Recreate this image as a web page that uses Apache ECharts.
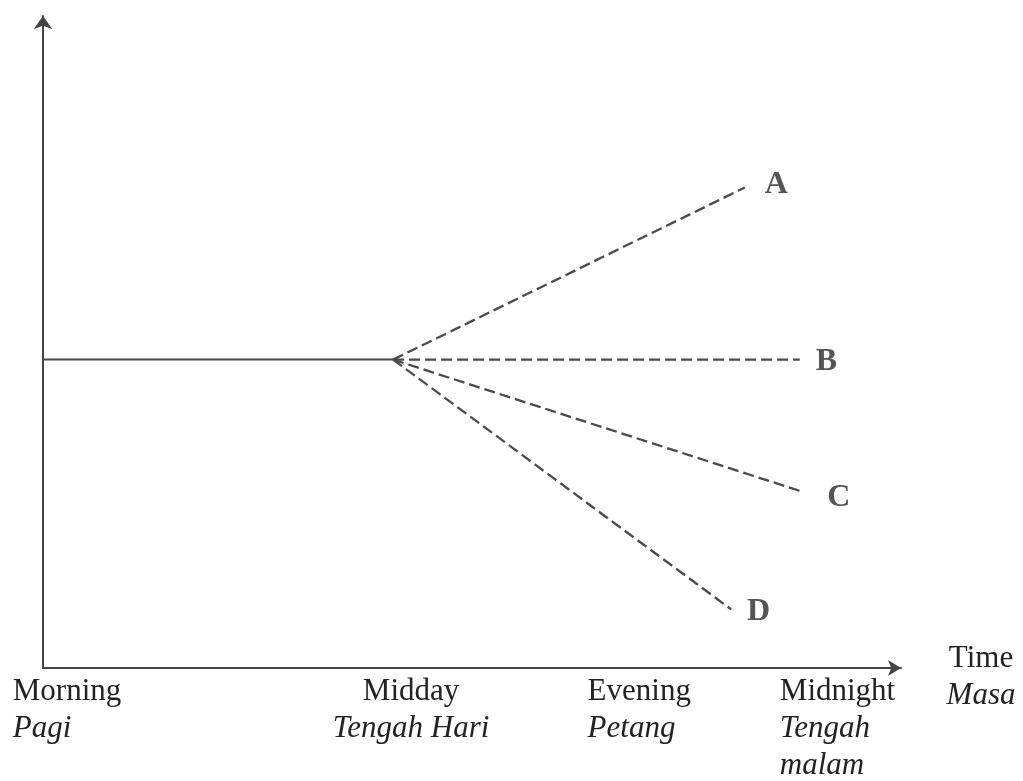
<!DOCTYPE html>
<html>
<head>
<meta charset="utf-8">
<script src="https://cdn.jsdelivr.net/npm/echarts@6/dist/echarts.min.js"></script>
<style>html,body{margin:0;padding:0;background:#fff}#c{width:1023px;height:781px}</style>
</head>
<body>
<div id="c"></div>
<script>
// Abstract scale 0..100 on both axes (the original chart has no numeric ticks)
const tickPositions = [5.8, 42.9, 72.8, 95.2];
const tickEnglish = ['Morning', 'Midday', 'Evening', 'Midnight'];
const tickMalay = ['Pagi', 'Tengah Hari', 'Petang', 'Tengah\nmalam'];
const tickCentered = [false, true, false, false];
const axisNameEn = 'Time';
const axisNameMs = 'Masa';

const baseX = [0, 40.8];
const baseY = [47.3, 47.3];
const branchNames = ['A', 'B', 'C', 'D'];
const branchEndX = [81.8, 88.2, 88.6, 80.2];
const branchEndY = [73.7, 47.3, 27.0, 9.0];
const labelOffsets = [[20, -3], [16, 2], [24, 6], [16, 2]];

const FONT = 'Liberation Serif';
const chart = echarts.init(document.getElementById('c'), null, {renderer: 'canvas'});

const series = [{
  type: 'line', name: 'base', symbol: 'none', silent: true,
  lineStyle: {color: '#4a4a4a', width: 2, type: 'solid'},
  data: baseX.map((x, i) => [x, baseY[i]])
}];
branchNames.forEach((n, i) => {
  series.push({
    type: 'line', name: n, symbol: 'none', silent: true,
    lineStyle: {color: '#4a4a4a', width: 2.3, type: [11, 5]},
    endLabel: {show: true, distance: 0, offset: labelOffsets[i], formatter: n,
               fontFamily: FONT, fontWeight: 'bold', fontSize: 32, color: '#555'},
    data: [[baseX[1], baseY[1]], [branchEndX[i], branchEndY[i]]]
  });
});

const rich = {
  l: {fontFamily: FONT, fontSize: 31, color: '#222', width: 160, align: 'left', lineHeight: 37},
  li: {fontFamily: FONT, fontSize: 31, fontStyle: 'italic', color: '#222', width: 160, align: 'left', lineHeight: 37},
  c: {fontFamily: FONT, fontSize: 31, color: '#222', width: 160, align: 'center', lineHeight: 37},
  ci: {fontFamily: FONT, fontSize: 31, fontStyle: 'italic', color: '#222', width: 160, align: 'center', lineHeight: 37},
  n: {fontFamily: FONT, fontSize: 31, color: '#222', width: 70, align: 'center', lineHeight: 37},
  ni: {fontFamily: FONT, fontSize: 31, fontStyle: 'italic', color: '#222', width: 70, align: 'center', lineHeight: 37}
};

chart.setOption({
  animation: false,
  backgroundColor: '#fff',
  grid: {left: 43, right: 122, top: 16, bottom: 112, containLabel: false},
  xAxis: {
    type: 'value', min: 0, max: 100,
    splitLine: {show: false},
    axisTick: {show: false},
    axisLine: {show: true, symbol: ['none', 'arrow'], symbolSize: [12, 13],
               lineStyle: {color: '#444', width: 2}},
    axisLabel: {
      customValues: tickPositions,
      margin: 5,
      formatter: function (v) {
        const i = tickPositions.indexOf(v);
        if (i < 0) return '';
        const s1 = tickCentered[i] ? 'c' : 'l';
        const s2 = tickCentered[i] ? 'ci' : 'li';
        return '{' + s1 + '|' + tickEnglish[i] + '}\n' +
          tickMalay[i].split('\n').map(t => '{' + s2 + '|' + t + '}').join('\n');
      },
      rich: rich
    },
    name: '{n|' + axisNameEn + '}\n{ni|' + axisNameMs + '}',
    nameLocation: 'end',
    nameGap: 45,
    nameTextStyle: {rich: rich, align: 'left', verticalAlign: 'middle', padding: [18, 0, 0, 0]}
  },
  yAxis: {
    type: 'value', min: 0, max: 100,
    splitLine: {show: false},
    axisTick: {show: false},
    axisLabel: {show: false},
    axisLine: {show: true, symbol: ['none', 'arrow'], symbolSize: [14, 13],
               lineStyle: {color: '#444', width: 2}}
  },
  series: series
});
</script>
</body>
</html>
